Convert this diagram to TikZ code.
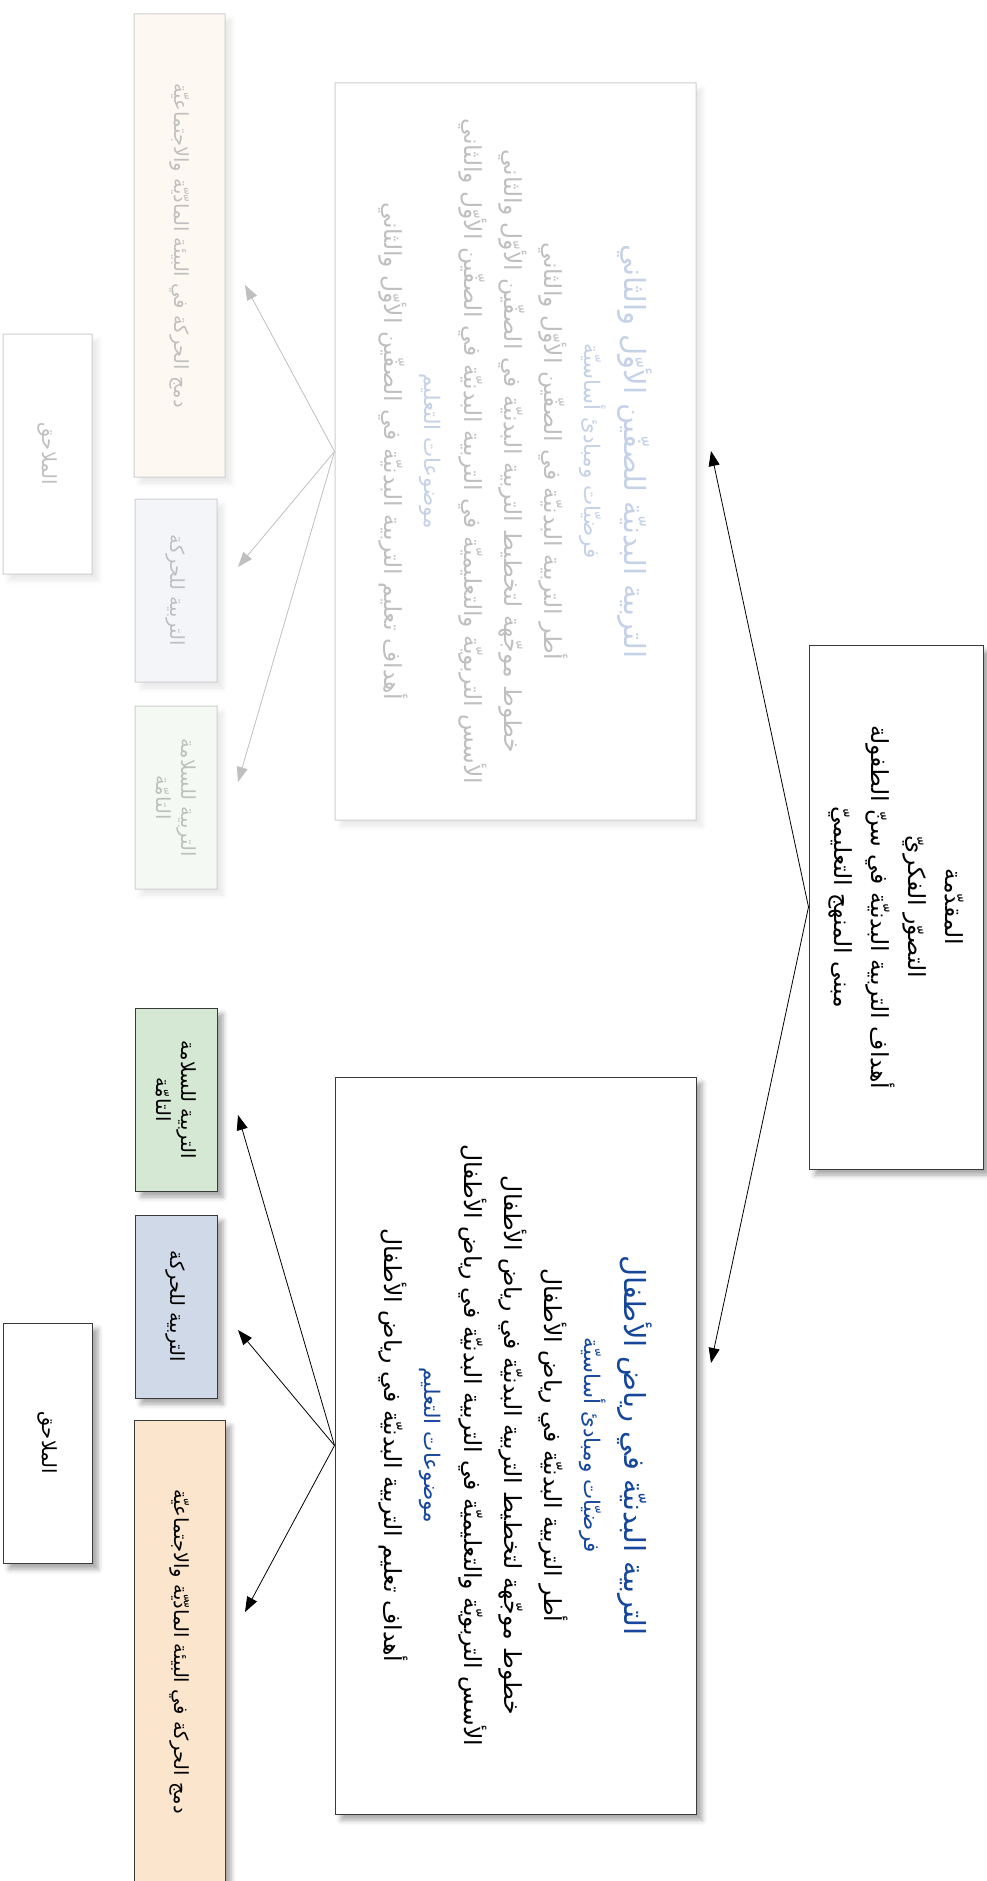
\documentclass[tikz,border=0pt]{standalone}
\usepackage{fontspec}
\usepackage{xcolor}
\usepackage{tikz}
\usetikzlibrary{arrows.meta, positioning, calc, shadows.blur}
\newfontfamily\arabicfont[Script=Arabic]{DejaVu Sans}
\TeXXeTstate=1
\newcommand{\rl}[1]{\beginR #1\endR}
\definecolor{titleblue}{HTML}{16479B}
\definecolor{safetygreen}{HTML}{D5E8D4}
\definecolor{movementblue}{HTML}{D0D9E8}
\definecolor{integrationorange}{HTML}{FCE5CD}
\definecolor{edgegrey}{HTML}{3A3A3A}
\tikzset{
    box/.style={draw=edgegrey, line width=1pt, fill=white, rotate=-90, inner sep=0pt, align=center,
        font=\arabicfont\fontsize{23.5}{40}\selectfont,
        blur shadow={shadow xshift=6pt, shadow yshift=-6pt, shadow blur radius=5pt, shadow opacity=35}},
    leafbox/.style={box, font=\arabicfont\fontsize{19.5}{25}\selectfont},
    arr/.style={-{Triangle[length=15pt, width=11pt]}, line width=0.8pt},
}
\begin{document}
\begin{tikzpicture}[x=1pt, y=-1pt]
    \useasboundingbox (0,0) rectangle (987,1881);
    \clip (0,0) rectangle (987,1881);
    % Root
    \node[box, minimum width=524pt, minimum height=174pt, font=\arabicfont\fontsize{23.5}{37}\selectfont] (intro) at (896,907)
        {\rl{المقدّمة}\\\rl{التصوّر الفكريّ}\\\rl{أهداف التربية البدنيّة في سنّ الطفولة}\\\rl{مبنى المنهج التعليميّ}};
    % Kindergarten branch
    \node[box, minimum width=737pt, minimum height=361pt] (kinder) at (515.5,1445.5)
        {{\color{titleblue}\fontsize{29}{40}\selectfont\rl{التربية البدنيّة في رياض الأطفال}}\\
         {\color{titleblue}\fontsize{21.5}{40}\selectfont\rl{فرضيّات ومبادئ أساسيّة}}\\
         \rl{أطر التربية البدنيّة في رياض الأطفال}\\
         \rl{خطوط موجّهة لتخطيط التربية البدنيّة في رياض الأطفال}\\
         \rl{الأسس التربويّة والتعليميّة في التربية البدنيّة في رياض الأطفال}\\
         {\color{titleblue}\fontsize{21.5}{40}\selectfont\rl{موضوعات التعليم}}\\
         \rl{أهداف تعليم التربية البدنيّة في رياض الأطفال}};
    \node[leafbox, fill=safetygreen, minimum width=183pt, minimum height=82pt] (kgsafety) at (176,1099.5)
        {\rl{التربية للسلامة}\\\rl{التامّة}};
    \node[leafbox, fill=movementblue, minimum width=183pt, minimum height=82pt] (kgmove) at (176,1306.5)
        {\rl{التربية للحركة}};
    \node[leafbox, fill=integrationorange, minimum width=463pt, minimum height=91pt] (kgmerge) at (179.5,1651.5)
        {\rl{دمج الحركة في البيئة المادّيّة والاجتماعيّة}};
    \node[leafbox, minimum width=240pt, minimum height=89pt] (kgappx) at (47.5,1443) {\rl{الملاحق}};
    \coordinate (kgin) at (711,1363);
    \coordinate (kgsafetyin) at (238,1115);
    \coordinate (kgmovein) at (238,1330);
    \coordinate (kgmergein) at (245,1612);
    \draw[arr] (intro.south) -- (kgin);
    \draw[arr] (kinder.south) -- (kgsafetyin);
    \draw[arr] (kinder.south) -- (kgmovein);
    \draw[arr] (kinder.south) -- (kgmergein);
    % First and second grade branch (faded)
    \coordinate (gdin) at (711,451);
    \draw[arr] (intro.south) -- (gdin);
    \begin{scope}[opacity=0.25, transparency group]
        \node[box, minimum width=737pt, minimum height=361pt] (grades) at (515.5,451.5)
            {{\color{titleblue}\fontsize{29}{40}\selectfont\rl{التربية البدنيّة للصفّين الأوّل والثاني}}\\
             {\color{titleblue}\fontsize{21.5}{40}\selectfont\rl{فرضيّات ومبادئ أساسيّة}}\\
             \rl{أطر التربية البدنيّة في الصفّين الأوّل والثاني}\\
             \rl{خطوط موجّهة لتخطيط التربية البدنيّة في الصفّين الأوّل والثاني}\\
             \rl{الأسس التربويّة والتعليميّة في التربية البدنيّة في الصفّين الأوّل والثاني}\\
             {\color{titleblue}\fontsize{21.5}{40}\selectfont\rl{موضوعات التعليم}}\\
             \rl{أهداف تعليم التربية البدنيّة في الصفّين الأوّل والثاني}};
        \node[leafbox, fill=integrationorange, minimum width=463pt, minimum height=91pt] (gdmerge) at (179.5,245.5)
            {\rl{دمج الحركة في البيئة المادّيّة والاجتماعيّة}};
        \node[leafbox, fill=movementblue, minimum width=183pt, minimum height=82pt] (gdmove) at (176,590.5)
            {\rl{التربية للحركة}};
        \node[leafbox, fill=safetygreen, minimum width=183pt, minimum height=82pt] (gdsafety) at (176,797.5)
            {\rl{التربية للسلامة}\\\rl{التامّة}};
        \node[leafbox, minimum width=240pt, minimum height=89pt] (gdappx) at (47.5,454) {\rl{الملاحق}};
        \coordinate (gdmergein) at (245,285);
        \coordinate (gdmovein) at (238,567);
        \coordinate (gdsafetyin) at (238,782);
        \draw[arr] (grades.south) -- (gdmergein);
        \draw[arr] (grades.south) -- (gdmovein);
        \draw[arr] (grades.south) -- (gdsafetyin);
    \end{scope}
\end{tikzpicture}
\end{document}
